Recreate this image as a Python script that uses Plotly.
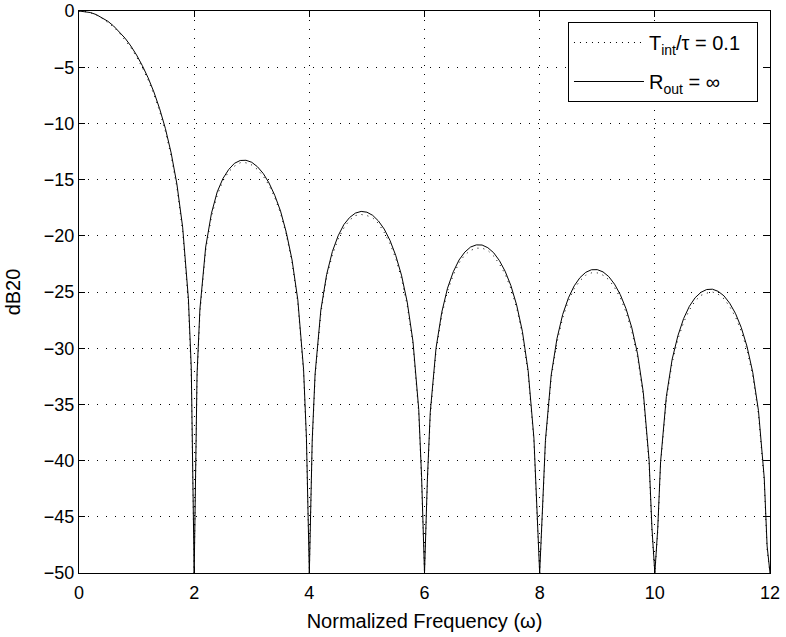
import plotly.graph_objects as go

# Normalized frequency samples
freq = [0.0, 0.1, 0.2, 0.3, 0.4, 0.5, 0.6, 0.7, 0.8, 0.9,
        1.0, 1.1, 1.2, 1.3, 1.4, 1.5, 1.6, 1.7, 1.8, 1.9, 1.95,
        2.0, 2.05, 2.1, 2.2, 2.3, 2.4, 2.5, 2.6, 2.7, 2.8, 2.9,
        3.0, 3.1, 3.2, 3.3, 3.4, 3.5, 3.6, 3.7, 3.8, 3.9, 3.95,
        4.0, 4.05, 4.1, 4.2, 4.3, 4.4, 4.5, 4.6, 4.7, 4.8, 4.9,
        5.0, 5.1, 5.2, 5.3, 5.4, 5.5, 5.6, 5.7, 5.8, 5.9, 5.95,
        6.0, 6.05, 6.1, 6.2, 6.3, 6.4, 6.5, 6.6, 6.7, 6.8, 6.9,
        7.0, 7.1, 7.2, 7.3, 7.4, 7.5, 7.6, 7.7, 7.8, 7.9, 7.95,
        8.0, 8.05, 8.1, 8.2, 8.3, 8.4, 8.5, 8.6, 8.7, 8.8, 8.9,
        9.0, 9.1, 9.2, 9.3, 9.4, 9.5, 9.6, 9.7, 9.8, 9.9, 9.95,
        10.0, 10.05, 10.1, 10.2, 10.3, 10.4, 10.5, 10.6, 10.7, 10.8, 10.9,
        11.0, 11.1, 11.2, 11.3, 11.4, 11.5, 11.6, 11.7, 11.8, 11.9, 11.95,
        12.0]

# R_out = inf (solid line), dB20
rout_inf = [0.0, -0.04, -0.14, -0.32, -0.58, -0.91, -1.33, -1.83, -2.42, -3.11,
            -3.92, -4.86, -5.94, -7.2, -8.69, -10.45, -12.62, -15.39, -19.23, -25.6, -31.8,
            -50.0, -32.3, -26.5, -21.0, -18.0, -16.1, -14.9, -14.1, -13.55, -13.3, -13.28,
            -13.46, -13.86, -14.46, -15.3, -16.4, -17.8, -19.7, -22.15, -25.7, -31.9, -38.0,
            -50.0, -38.2, -32.3, -26.6, -23.45, -21.4, -20.0, -19.0, -18.37, -17.98, -17.83,
            -17.9, -18.18, -18.68, -19.4, -20.4, -21.74, -23.5, -25.9, -29.4, -35.45, -41.5,
            -50.0, -41.7, -35.7, -30.0, -26.8, -24.66, -23.2, -22.15, -21.45, -21.0, -20.81,
            -20.82, -21.06, -21.5, -22.2, -23.15, -24.43, -26.15, -28.5, -32.0, -38.0, -44.0,
            -50.0, -44.15, -38.2, -32.4, -29.16, -27.0, -25.52, -24.45, -23.72, -23.25, -23.02,
            -23.01, -23.21, -23.63, -24.3, -25.23, -26.49, -28.18, -30.5, -33.95, -39.95, -46.0,
            -50.0, -46.1, -40.1, -34.3, -31.0, -28.9, -27.36, -26.27, -25.51, -25.03, -24.78,
            -24.75, -24.94, -25.34, -26.0, -26.9, -28.15, -29.83, -32.14, -35.56, -41.55, -47.6,
            -50.0]

# T_int / tau = 0.1 (dotted line), dB20
tint_01 = [0.0, -0.04, -0.16, -0.36, -0.64, -0.99, -1.42, -1.94, -2.55, -3.26,
           -4.08, -5.03, -6.13, -7.41, -8.92, -10.71, -12.9, -15.7, -19.6, -26.1, -32.6,
           -50.0, -32.8, -26.9, -21.3, -18.3, -16.4, -15.1, -14.3, -13.8, -13.5, -13.5,
           -13.7, -14.1, -14.7, -15.5, -16.6, -18.0, -19.9, -22.4, -26.0, -32.2, -38.4,
           -50.0, -38.6, -32.6, -26.9, -23.7, -21.7, -20.3, -19.3, -18.6, -18.2, -18.1,
           -18.2, -18.4, -18.9, -19.7, -20.7, -22.0, -23.8, -26.2, -29.7, -35.8, -41.9,
           -50.0, -42.0, -36.1, -30.3, -27.1, -24.9, -23.5, -22.4, -21.7, -21.3, -21.1,
           -21.1, -21.3, -21.8, -22.5, -23.4, -24.7, -26.4, -28.8, -32.3, -38.3, -44.4,
           -50.0, -44.5, -38.5, -32.7, -29.5, -27.3, -25.8, -24.7, -24.0, -23.5, -23.3,
           -23.3, -23.5, -23.9, -24.6, -25.5, -26.8, -28.5, -30.8, -34.3, -40.3, -46.4,
           -50.0, -46.4, -40.4, -34.6, -31.3, -29.2, -27.7, -26.6, -25.8, -25.3, -25.1,
           -25.0, -25.2, -25.6, -26.3, -27.2, -28.5, -30.1, -32.5, -35.9, -41.9, -48.0,
           -50.0]

x_ticks = [0, 2, 4, 6, 8, 10, 12]
y_ticks = [0, -5, -10, -15, -20, -25, -30, -35, -40, -45, -50]

FONT = "Liberation Sans, Arial, Helvetica, sans-serif"
PAD = "\u00a0\u00a0"

fig = go.Figure()
fig.add_trace(go.Scatter(
    x=freq, y=tint_01, mode="lines",
    name="T<sub>int</sub>/τ = 0.1" + PAD, legendgroup="a",
    line=dict(color="black", width=1, dash="1px,5px"),
))
fig.add_trace(go.Scatter(
    x=freq, y=rout_inf, mode="lines",
    name="R<sub>out</sub> = ∞" + PAD, legendgroup="b",
    line=dict(color="black", width=1),
))

axis_common = dict(
    showline=True, linecolor="black", linewidth=1, mirror="allticks",
    ticks="inside", ticklen=6, tickcolor="black", tickwidth=1,
    showgrid=True, gridcolor="black", gridwidth=1, griddash="1px,8px",
    zeroline=False, automargin=False,
    tickfont=dict(family=FONT, size=18, color="black"),
)

fig.update_xaxes(range=[0, 12], tickvals=x_ticks, ticklabelstandoff=3,
                 title=dict(text="Normalized Frequency (ω)",
                            font=dict(family=FONT, size=20, color="black"),
                            standoff=12),
                 **axis_common)
fig.update_yaxes(range=[-50, 0], tickvals=y_ticks,
                 title=dict(text="dB20",
                            font=dict(family=FONT, size=20, color="black"),
                            standoff=17),
                 **axis_common)

fig.update_layout(
    width=786, height=637,
    margin=dict(l=79, r=16, t=11, b=64),
    paper_bgcolor="white", plot_bgcolor="white",
    font=dict(family=FONT, size=18, color="black"),
    showlegend=True,
    legend=dict(
        x=0.9826, y=0.9804, xanchor="right", yanchor="top",
        bgcolor="white", bordercolor="black", borderwidth=1,
        font=dict(family=FONT, size=20, color="black"),
        itemwidth=70, tracegroupgap=10,
    ),
)

fig.write_html("out.html",
               config={"displayModeBar": False},
               post_script="document.body.style.margin='0';document.body.style.padding='0';")
